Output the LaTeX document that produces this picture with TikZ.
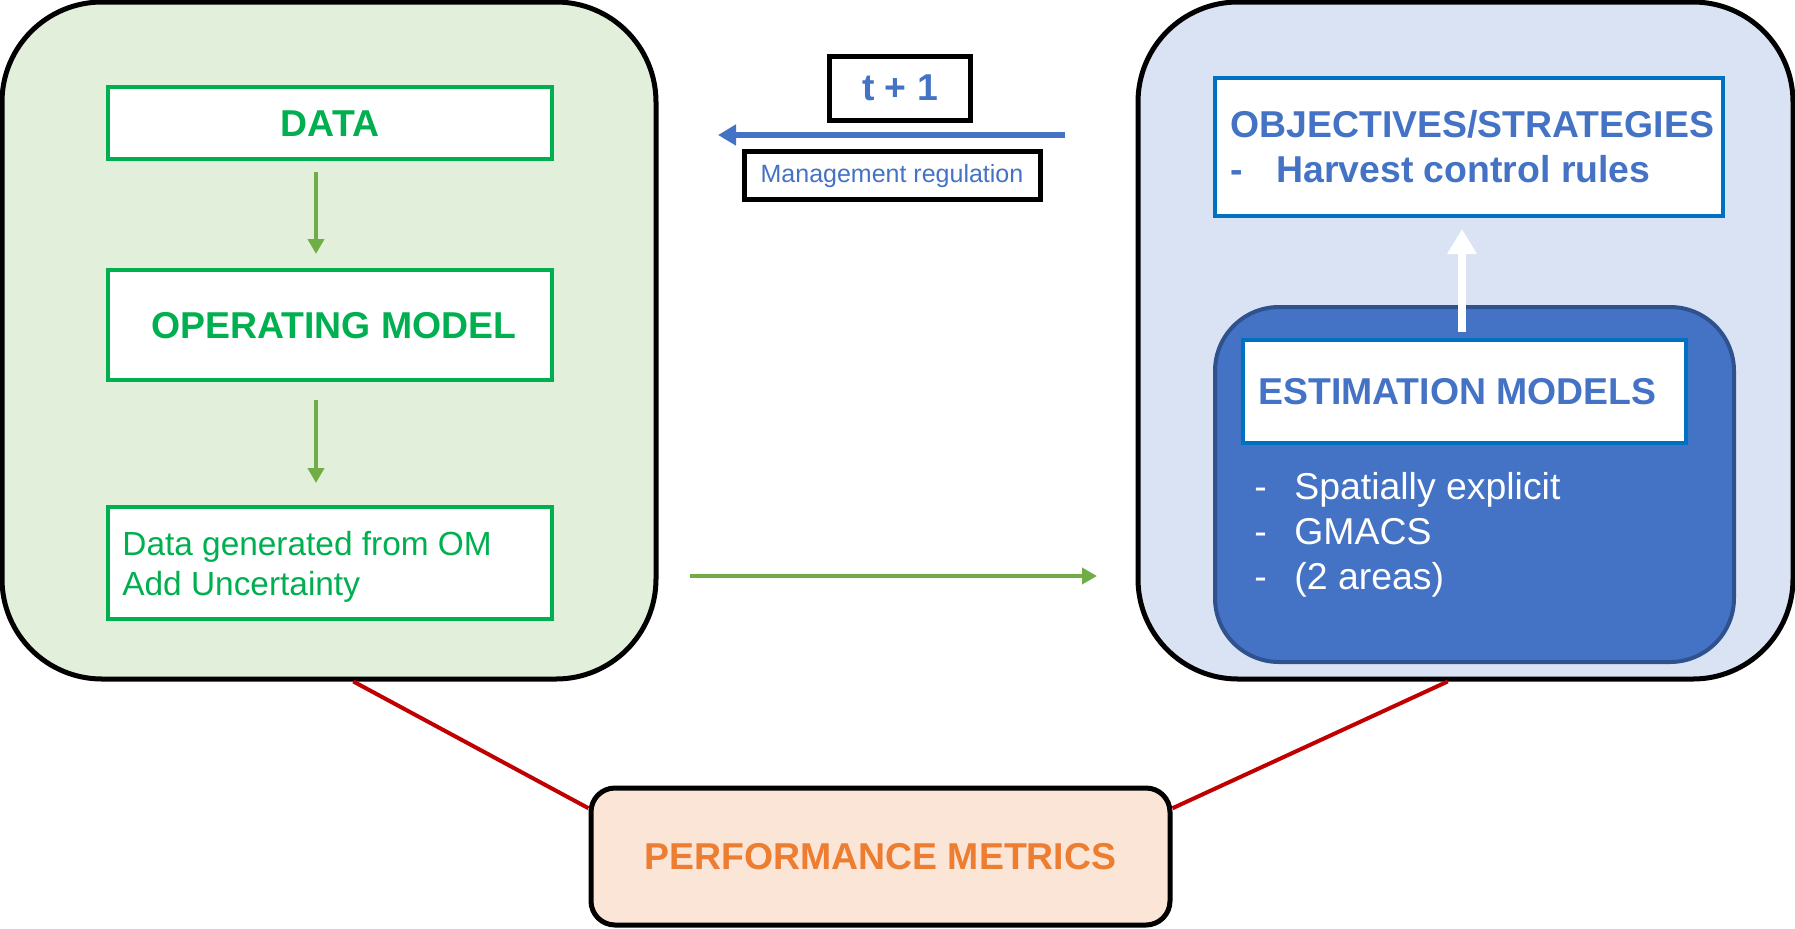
\documentclass[tikz,border=0pt]{standalone}
\usepackage{fontspec}
\setmainfont{Liberation Sans}
\usetikzlibrary{arrows.meta,calc}
\definecolor{gtext}{HTML}{00B050}
\definecolor{garrow}{HTML}{70AD47}
\definecolor{gfill}{HTML}{E2EFDA}
\definecolor{bfill}{HTML}{DAE3F3}
\definecolor{btext}{HTML}{4472C4}
\definecolor{bborder}{HTML}{0070C0}
\definecolor{emfill}{HTML}{4472C4}
\definecolor{emborder}{HTML}{2F528F}
\definecolor{pmfill}{HTML}{FBE5D6}
\definecolor{pmtext}{HTML}{ED7D31}
\definecolor{redline}{HTML}{C00000}
\tikzset{
  bigbox/.style={draw=black, line width=2.5pt, rounded corners=50pt, inner sep=0pt},
  greenbox/.style={draw=gtext, line width=2.2pt, fill=white, inner sep=0pt},
  blackbox/.style={draw=black, line width=2.5pt, fill=white, inner sep=0pt},
  bluebox/.style={draw=bborder, line width=2pt, fill=white, inner sep=0pt},
  big/.style={font=\fontsize{18.7}{22.5}\selectfont},
  bigb/.style={font=\fontsize{18.7}{22.5}\selectfont\bfseries},
  garr/.style={draw=garrow, line width=2pt, -{Triangle[length=7.5pt,width=8pt]}},
  redl/.style={draw=redline, line width=2pt},
}
\begin{document}
\begin{tikzpicture}[x=0.5pt,y=-0.5pt]
\useasboundingbox (0,0) rectangle (1795,928);
% left group
\node[bigbox, fill=gfill, minimum width=327pt, minimum height=338.5pt] (left) at (329,340.5) {};
\node[greenbox, minimum width=222pt, minimum height=36pt] (data) at (330,123) {};
\node[bigb, text=gtext] (datat) at (330,124) {DATA};
\node[greenbox, minimum width=222pt, minimum height=55pt] (om) at (330,325) {};
\node[bigb, text=gtext] (omt) at (334,326) {OPERATING MODEL};
\node[greenbox, minimum width=222pt, minimum height=56pt] (gen) at (330,563) {};
\node[anchor=west, align=left, inner sep=0pt, text=gtext, font=\fontsize{16.7}{20}\selectfont] (gent) at (122,567) {Data generated from OM\\Add Uncertainty};
\coordinate (a1s) at (316,172);
\coordinate (a1e) at (316,254);
\coordinate (a2s) at (316,400);
\coordinate (a2e) at (316,483);
\draw[garr] (a1s) -- (a1e);
\draw[garr] (a2s) -- (a2e);
% right group
\node[bigbox, fill=bfill, minimum width=327.5pt, minimum height=338.5pt] (right) at (1465.5,340.5) {};
\node[bluebox, minimum width=254pt, minimum height=69pt] (obj) at (1469,147) {};
\node[bigb, text=btext, anchor=west, align=left, inner sep=0pt] (objt) at (1230,147) {OBJECTIVES/STRATEGIES\\\makebox[23pt][l]{-}Harvest control rules};
\node[draw=emborder, fill=emfill, line width=2pt, rounded corners=32pt, minimum width=259.5pt, minimum height=177.5pt, inner sep=0pt] (emo) at (1474.5,484.5) {};
\node[bluebox, minimum width=221.5pt, minimum height=51.5pt] (emw) at (1464.5,391.5) {};
\node[bigb, text=btext, anchor=west, inner sep=0pt] (emt) at (1258,392) {ESTIMATION MODELS};
\node[big, text=white, anchor=west, align=left, inner sep=0pt] (bul) at (1254,535) {\makebox[20pt][l]{-}Spatially explicit\\\makebox[20pt][l]{-}GMACS\\\makebox[20pt][l]{-}(2 areas)};
\coordinate (ws) at (1462,332);
\coordinate (we) at (1462,229);
\draw[white, line width=4pt, -{Triangle[length=12.5pt,width=14pt]}] (ws) -- (we);
% middle
\node[blackbox, minimum width=70.5pt, minimum height=32pt] (t1) at (900,88) {};
\node[bigb, text=btext] (t1t) at (900,88) {t + 1};
\node[blackbox, minimum width=148pt, minimum height=24pt] (mg) at (892,175) {};
\node[text=btext, font=\fontsize{12.5}{15}\selectfont] (mgt) at (892,176) {Management regulation};
\coordinate (bs) at (1065,135);
\coordinate (be) at (718,135);
\draw[draw=btext, line width=3pt, -{Triangle[length=9pt,width=10pt]}] (bs) -- (be);
\coordinate (gs) at (690,576);
\coordinate (ge) at (1097,576);
\draw[garr] (gs) -- (ge);
% performance metrics
\node[draw=black, line width=2.5pt, fill=pmfill, rounded corners=12pt, minimum width=289.5pt, minimum height=68.5pt, inner sep=0pt] (pm) at (880.5,856.5) {};
\node[bigb, text=pmtext] (pmt) at (880.5,857) {PERFORMANCE METRICS};
\draw[redl] ($(left.south west)!0.537!(left.south east)$) -- ($(pm.north west)!0.16!(pm.south west)$);
\draw[redl] ($(right.south west)!0.473!(right.south east)$) -- ($(pm.north east)!0.16!(pm.south east)$);
\end{tikzpicture}
\end{document}
